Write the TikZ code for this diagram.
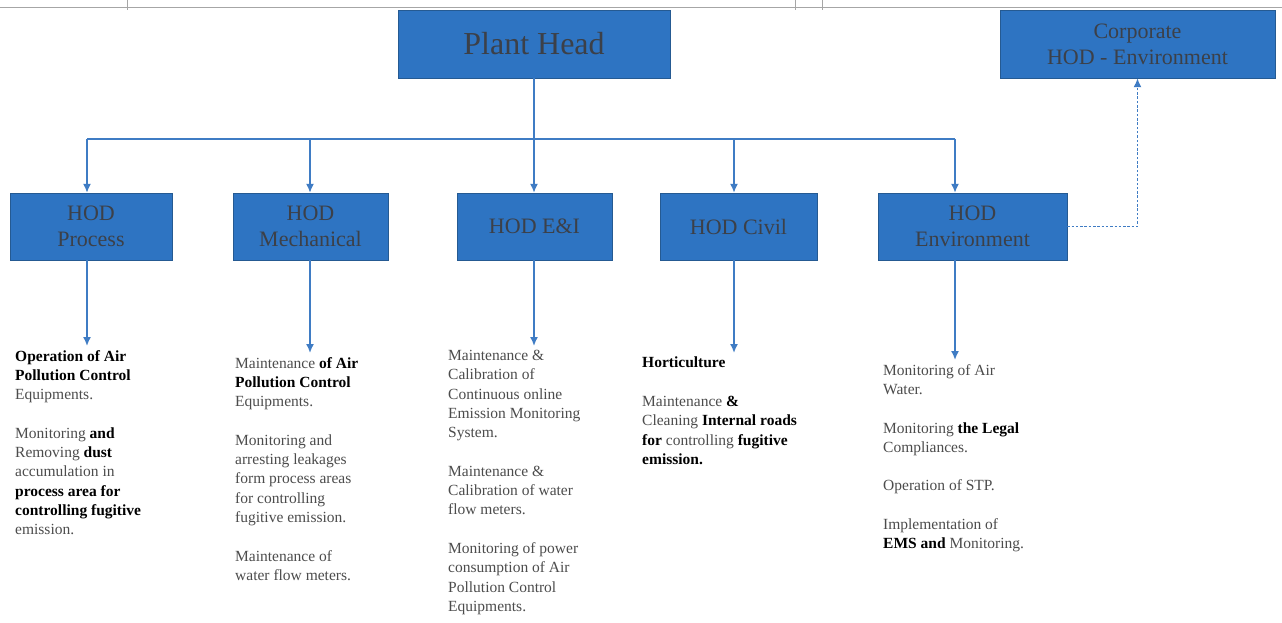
\documentclass[tikz,border=0pt]{standalone}
\usepackage{fontspec}
\setmainfont{Liberation Serif}
\usetikzlibrary{arrows.meta}

\definecolor{boxblue}{HTML}{2E74C2}
\definecolor{boxline}{HTML}{255A92}
\definecolor{boxtext}{HTML}{3C4048}
\definecolor{linkblue}{HTML}{3F7CC4}
\definecolor{bodytext}{HTML}{4C4C4C}

% heavy (bold, black) words of the duty lists
\def\hd#1{{\bfseries\color{black}#1}}
\def\gap{\\[19.3pt]}

\begin{document}
\begin{tikzpicture}[x=1pt,y=-1pt,
  box/.style={draw=boxline,fill=boxblue,text=boxtext,minimum height=67pt,
    align=center,inner sep=0pt,font=\fontsize{22}{26}\selectfont},
  duty/.style={anchor=north west,inner sep=0pt,align=left,text=bodytext,
    font=\fontsize{15.5}{19.3}\selectfont},
  link/.style={draw=linkblue,line width=1.6pt,-{Latex[length=9pt,width=8pt]}}]

  % page
  \fill[white] (0,0) rectangle (1282,623);
  \useasboundingbox (0,0) rectangle (1282,623);

  % rule of the table above
  \draw[gray!70,line width=0.8pt] (0,7) -- (1282,7);
  \foreach \x in {127,795,822}
      \draw[gray!70,line width=0.8pt] (\x,0) -- (\x,10);

  % Heads
  \node[box,minimum width=272pt,minimum height=68pt,font=\fontsize{32}{36}\selectfont]
      (plant) at (534,44) {Plant Head};
  \node[box,minimum width=275pt,minimum height=68pt]
      (corp) at (1137.5,44) {Corporate\\HOD - Environment};

  % HOD boxes: name/centre/width/arrow/label
  \foreach \n/\c/\w/\a/\t in {proc/91/162/87/{HOD\\Process},
                              mech/310.5/155/310/{HOD\\Mechanical},
                              ei/534.5/155/534/{HOD E\&I},
                              civil/738.5/157/734/{HOD Civil},
                              env/972.5/189/955/{HOD\\Environment}}
      {\node[box,minimum width=\w pt] (\n) at (\c,226.5) {\t};
       \coordinate (t\n) at (\a,139);}

  % Duties
  \node[duty] (dproc) at (15,350) {\hd{Operation of Air}\\
      \hd{Pollution Control}\\ Equipments.\gap
      Monitoring \hd{and}\\ Removing \hd{dust}\\ accumulation in\\
      \hd{process area for}\\ \hd{controlling fugitive}\\ emission.};
  \node[duty] (dmech) at (235,357) {Maintenance \hd{of Air}\\
      \hd{Pollution Control}\\ Equipments.\gap
      Monitoring and\\ arresting leakages\\ form process areas\\
      for controlling\\ fugitive emission.\gap
      Maintenance of\\ water flow meters.};
  \node[duty] (dei) at (448,350) {Maintenance \&\\ Calibration of\\
      Continuous online\\ Emission Monitoring\\ System.\gap
      Maintenance \&\\ Calibration of water\\ flow meters.\gap
      Monitoring of power\\ consumption of Air\\ Pollution Control\\
      Equipments.};
  \node[duty] (dcivil) at (642,357) {\hd{Horticulture}\gap
      Maintenance \hd{\&}\\ Cleaning \hd{Internal roads}\\
      \hd{for} controlling \hd{fugitive}\\ \hd{emission.}};
  \node[duty] (denv) at (883,364) {Monitoring of Air\\ Water.\gap
      Monitoring \hd{the Legal}\\ Compliances.\gap
      Operation of STP.\gap
      Implementation of\\ \hd{EMS and} Monitoring.};

  % Flows
  \draw[link,-] (plant.south) -- (tei);
  \draw[link,-] (tproc) -- (tenv);
  \foreach \n in {proc,mech,ei,civil,env}
      {\draw[link] (t\n) -- (t\n |- \n.north);
       \draw[link,shorten >=4pt] (t\n |- \n.south) -- (t\n |- d\n.north);}

  % reporting line
  \draw[link,dash pattern=on 2.5pt off 1.8pt,line width=1.6pt]
      (env.east) -| (corp.south);

\end{tikzpicture}
\end{document}
